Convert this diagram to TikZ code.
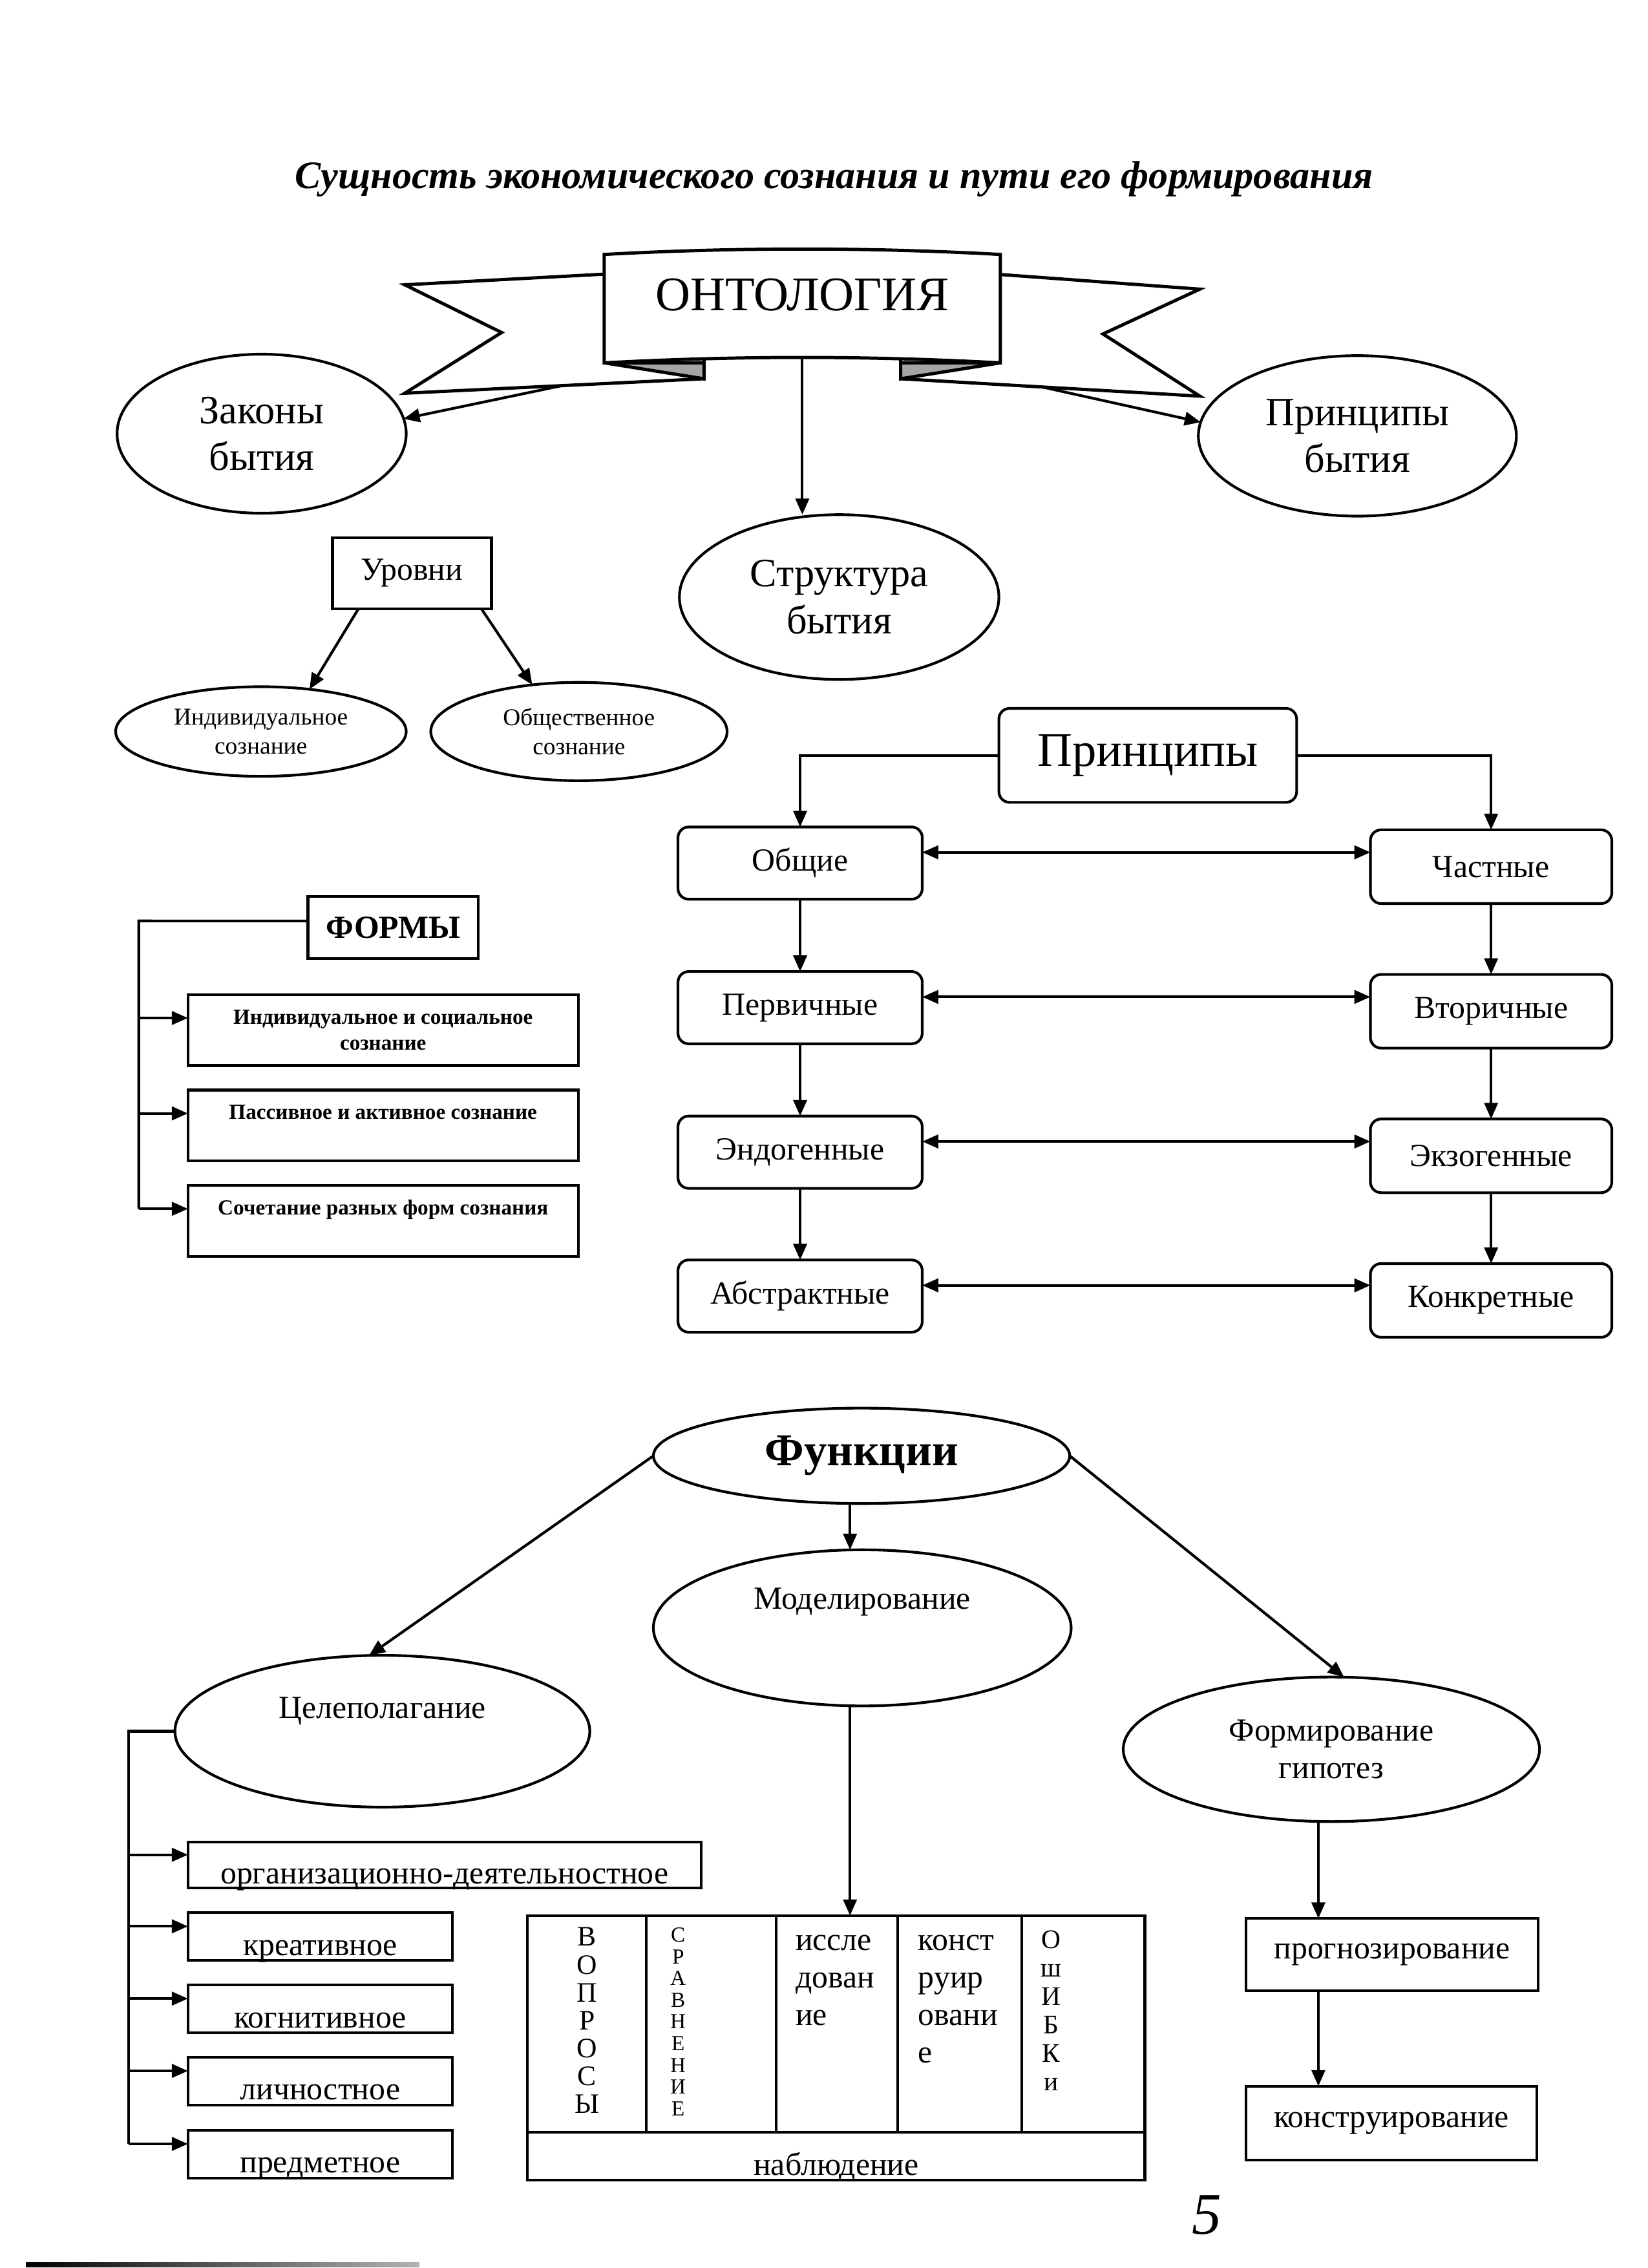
\documentclass[tikz,border=0pt]{standalone}
\usepackage{fontspec}
\setmainfont{Liberation Serif}
\usepackage{tikz}
\usetikzlibrary{arrows.meta,shapes.geometric}
\newcommand{\px}{0.53886pt}
\newcommand{\fsz}[2]{\fontsize{#1}{#2}\selectfont}
\tikzset{
    dims/.style 2 args = {
        minimum width=#1*\px,
        minimum height=#2*\px
    },
    basenode/.style = {
        align=center,
        inner sep=0pt,
        outer sep=0pt,
        draw=black,
        line width=1pt,
        fill=white
    },
    boxnode/.style = {
        basenode,
        rectangle
    },
    roundnode/.style = {
        boxnode,
        rounded corners=4pt
    },
    ovalnode/.style = {
        basenode,
        ellipse
    },
    textnode/.style = {
        align=center,
        inner sep=0pt
    },
    conn/.style = {
        line width=1pt
    },
    arrow/.style = {
        conn,
        -{Triangle[length=6pt,width=5pt]}
    },
    dblarrow/.style = {
        conn,
        {Triangle[length=6pt,width=5pt]}-{Triangle[length=6pt,width=5pt]}
    },
    banner/.style = {
        line width=1.2pt,
        draw=black,
        fill=white,
        line join=miter
    },
    foldpart/.style = {
        banner,
        fill=black!35
    },
    lowtext/.style = {
        text height=14pt,
        text depth=0pt
    }
}
\begin{document}
\begin{tikzpicture}[x=\px, y=-\px]
    \useasboundingbox (0,0) rectangle (1140,1568.8);
    \node [textnode, font=\fsz{14.5}{17}\bfseries\itshape] (title) at (577,124) {Сущность экономического сознания и пути его формирования};

    \draw [banner] (430,189) -- (280,197) -- (347,230) -- (280,272) -- (487,262) -- (487,240) -- (430,240) -- cycle;
    \draw [banner] (680,189) -- (830,200) -- (763,231) -- (830,274) -- (623,262) -- (623,240) -- (680,240) -- cycle;
    \draw [banner] (418,176) .. controls (510,171) and (600,171) .. (692,176) -- (692,251) .. controls (600,246) and (510,246) .. (418,251) -- cycle;
    \draw [foldpart] (418,251) -- (487,251) -- (487,262) -- cycle;
    \draw [foldpart] (692,251) -- (623,251) -- (623,262) -- cycle;
    \node [textnode, font=\fsz{18}{20}] (onto) at (555,204) {ОНТОЛОГИЯ};
    \coordinate (ontobot) at (555,247.5);
    \coordinate (wingl) at (390,266.5);
    \coordinate (wingr) at (720,267.5);

    \node [ovalnode, dims={200}{110}, font=\fsz{15}{17.5}] (zakony) at (181,300) {Законы\\бытия};
    \node [ovalnode, dims={220}{111}, font=\fsz{15}{17.5}] (prinbyt) at (939,301.5) {Принципы\\бытия};
    \node [ovalnode, dims={221}{114}, font=\fsz{15}{17.5}] (strukt) at (580.5,413) {Структура\\бытия};
    \draw [arrow] (wingl) -- (zakony.6);
    \draw [arrow] (wingr) -- (prinbyt.175);
    \draw [arrow] (ontobot) -- (ontobot |- strukt.north);

    \node [boxnode, dims={110}{49}, font=\fsz{12}{14}] (urovni) at (285,396.5) {Уровни};
    \node [ovalnode, dims={201}{62}, font=\fsz{9}{10.8}] (indiv) at (180.5,506) {Индивидуальное\\сознание};
    \node [ovalnode, dims={205}{68}, font=\fsz{9}{10.8}] (obsch) at (400.5,506) {Общественное\\сознание};
    \draw [arrow] ([xshift=9.7pt]urovni.south west) -- (indiv.41);
    \draw [arrow] ([xshift=-3.8pt]urovni.south east) -- (obsch.135);

    \node [roundnode, dims={206}{65}, font=\fsz{18}{20}] (princ) at (794,522.5) {Принципы};
    \node [roundnode, dims={169}{50}, font=\fsz{12}{14}] (obsh) at (553.5,597) {Общие};
    \node [roundnode, dims={169}{50}, font=\fsz{12}{14}] (perv) at (553.5,697) {Первичные};
    \node [roundnode, dims={169}{50}, font=\fsz{12}{14}] (endo) at (553.5,797) {Эндогенные};
    \node [roundnode, dims={169}{50}, font=\fsz{12}{14}] (abstr) at (553.5,896.5) {Абстрактные};
    \node [roundnode, dims={167}{51}, font=\fsz{12}{14}] (chast) at (1031.5,599.5) {Частные};
    \node [roundnode, dims={167}{51}, font=\fsz{12}{14}] (vtor) at (1031.5,699.5) {Вторичные};
    \node [roundnode, dims={167}{51}, font=\fsz{12}{14}] (ekzo) at (1031.5,799.5) {Экзогенные};
    \node [roundnode, dims={167}{51}, font=\fsz{12}{14}] (konkr) at (1031.5,899.5) {Конкретные};
    \draw [arrow] (princ.west) -| (obsh.north);
    \draw [arrow] (princ.east) -| (chast.north);
    \foreach \a/\b in {obsh/perv, perv/endo, endo/abstr, chast/vtor, vtor/ekzo, ekzo/konkr}
        \draw [arrow] (\a.south) -- (\b.north);
    \foreach \a/\b in {obsh/chast, perv/vtor, endo/ekzo, abstr/konkr}
        \draw [dblarrow] ([yshift=4pt]\a.east) -- ([yshift=4pt]\a.east -| \b.west);

    \node [boxnode, dims={118}{43}, font=\fsz{12}{14}\bfseries] (formy) at (272,641.5) {ФОРМЫ};
    \node [boxnode, dims={270}{49}, font=\fsz{8}{9.5}\bfseries] (form1) at (265,712.5) {Индивидуальное и социальное\\сознание};
    \node [boxnode, dims={270}{49}, font=\fsz{8}{9.5}\bfseries, text height=6pt, text depth=10.5pt] (form2) at (265,778.5) {Пассивное и активное сознание};
    \node [boxnode, dims={270}{49}, font=\fsz{8}{9.5}\bfseries, text height=6pt, text depth=10.5pt] (form3) at (265,844.5) {Сочетание разных форм сознания};
    \coordinate (formrail) at (96,637);
    \draw [conn] ([yshift=2.4pt]formy.west) -- (formrail) -- ([yshift=4.5pt]formrail |- form3.west);
    \foreach \f in {form1, form2, form3}
        \draw [arrow] ([yshift=4.5pt]formrail |- \f.west) -- ([yshift=4.5pt]\f.west);

    \node [ovalnode, dims={288}{66}, font=\fsz{17}{20}\bfseries] (funk) at (596,1007) {Функции};
    \node [ovalnode, dims={289}{108}, font=\fsz{12}{14}, text height=8pt, text depth=22pt] (model) at (596.5,1126) {Моделирование};
    \node [ovalnode, dims={287}{105}, font=\fsz{12}{14}, text height=8pt, text depth=17.6pt] (cel) at (264.5,1197.5) {Целеполагание};
    \node [ovalnode, dims={288}{100}, font=\fsz{12}{14}] (gip) at (921,1210) {Формирование\\гипотез};
    \coordinate (moddrop) at ([xshift=-4.3pt]funk.south);
    \draw [arrow] (moddrop) -- (moddrop |- model.north);
    \draw [arrow] (funk.west) -- (cel.100);
    \draw [arrow] (funk.east) -- (gip.80);

    \node [boxnode, dims={355}{32}, font=\fsz{12}{14}, lowtext] (cel1) at (307.5,1290) {организационно-деятельностное};
    \node [boxnode, dims={183}{33}, font=\fsz{12}{14}, lowtext] (cel2) at (221.5,1339.5) {креативное};
    \node [boxnode, dims={183}{33}, font=\fsz{12}{14}, lowtext] (cel3) at (221.5,1389.5) {когнитивное};
    \node [boxnode, dims={183}{33}, font=\fsz{12}{14}, lowtext] (cel4) at (221.5,1439.5) {личностное};
    \node [boxnode, dims={183}{33}, font=\fsz{12}{14}, lowtext] (cel5) at (221.5,1490) {предметное};
    \coordinate (celrail) at (89,1197.5);
    \draw [conn] (cel.west) -- (celrail) -- ([yshift=3.8pt]celrail |- cel5.west);
    \foreach \i in {1,...,5}
        \draw [arrow] ([yshift=3.8pt]celrail |- cel\i.west) -- ([yshift=3.8pt]cel\i.west);

    \node [boxnode, dims={82}{150}, anchor=north west] (col1) at (365,1325) {};
    \node [boxnode, dims={90}{150}, anchor=north west] (col2) at (447,1325) {};
    \node [boxnode, dims={84}{150}, anchor=north west] (col3) at (537,1325) {};
    \node [boxnode, dims={86}{150}, anchor=north west] (col4) at (621,1325) {};
    \node [boxnode, dims={85}{150}, anchor=north west] (col5) at (707,1325) {};
    \node [boxnode, dims={427}{33}, anchor=north west, font=\fsz{12}{14}, lowtext] (nabl) at (365,1475) {наблюдение};
    \node [textnode, anchor=north, font=\fsz{10.5}{10.4}] (voprosy) at ([yshift=-4.3pt]col1.north) {В\\О\\П\\Р\\О\\С\\Ы};
    \node [textnode, anchor=north, font=\fsz{8}{8.1}] (sravn) at ([xshift=11.9pt, yshift=-4.3pt]col2.north west) {С\\Р\\А\\В\\Н\\Е\\Н\\И\\Е};
    \node [textnode, anchor=north west, align=left, font=\fsz{12}{14}] (issl) at ([xshift=7pt, yshift=-7pt]col3.north west) {иссле\\дован\\ие};
    \node [textnode, anchor=north west, align=left, font=\fsz{12}{14}] (konst) at ([xshift=7.5pt, yshift=-7pt]col4.north west) {конст\\руир\\овани\\е};
    \node [textnode, anchor=north, font=\fsz{10}{10.6}] (oshibki) at ([xshift=10.8pt, yshift=-5.4pt]col5.north west) {О\\ш\\И\\Б\\К\\и};
    \draw [arrow] (moddrop |- model.south) -- (moddrop |- col3.north);

    \node [boxnode, dims={202}{50}, font=\fsz{12}{14}] (prog) at (963,1352) {прогнозирование};
    \node [boxnode, dims={201}{51}, font=\fsz{12}{14}] (konstr) at (962.5,1468.5) {конструирование};
    \coordinate (gipdrop) at ([xshift=-4.85pt]gip.south);
    \draw [arrow] (gipdrop) -- (gipdrop |- prog.north);
    \draw [arrow] (gipdrop |- prog.south) -- (gipdrop |- konstr.north);

    \node [textnode, font=\fsz{22}{22}\itshape] (pagenum) at (835,1532) {5};
    \shade [left color=black, right color=black!30] (18,1565) rectangle (290,1568);
\end{tikzpicture}
\end{document}
